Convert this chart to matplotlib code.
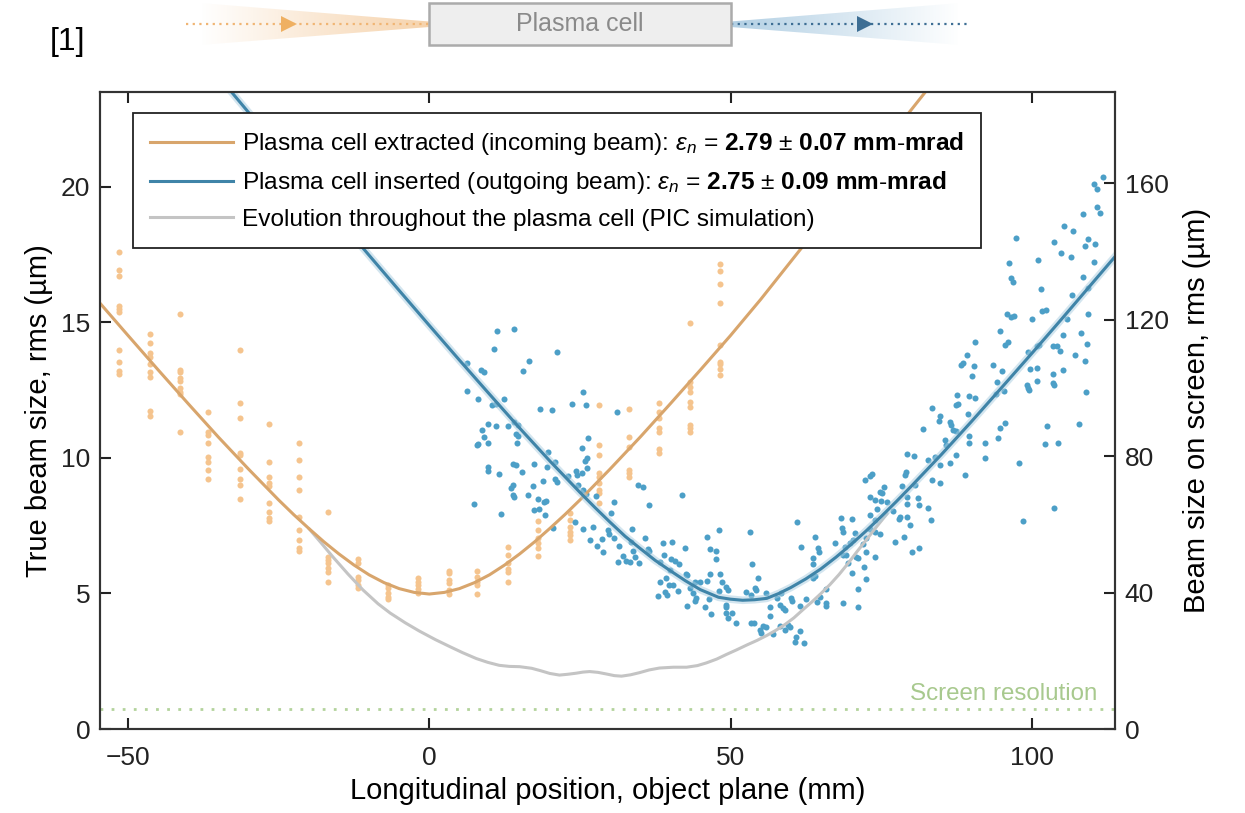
import numpy as np
import matplotlib
matplotlib.use("Agg")
import matplotlib.pyplot as plt
from matplotlib.colors import to_rgb
from matplotlib.patches import Polygon, Rectangle
from matplotlib.lines import Line2D

plt.rcParams["font.family"] = ["Liberation Sans", "DejaVu Sans"]
plt.rcParams["mathtext.fontset"] = "custom"
plt.rcParams["mathtext.rm"] = "Liberation Sans"
plt.rcParams["mathtext.it"] = "Liberation Sans:italic"
plt.rcParams["mathtext.bf"] = "Liberation Sans:bold"

# ---- data -----------------------------------------------------------------
# incoming beam (plasma cell extracted): screen positions (mm) and sizes (um)
orange_z = [-51.5, -46.4, -41.4, -36.7, -31.4, -26.6, -21.6, -16.8, -11.8, -6.8, -1.8,
            3.2, 8.0, 13.1, 18.1, 23.3, 28.2, 33.2, 38.2, 43.2, 48.2]
orange_s = [
    [17.6, 16.95, 16.7, 15.6, 15.5, 15.4, 14.0, 13.55, 13.2, 13.1],
    [14.58, 14.23, 13.86, 13.74, 13.47, 13.18, 12.98, 11.75, 11.55],
    [15.3, 13.25, 13.18, 12.94, 12.85, 12.57, 12.45, 12.36, 10.97],
    [11.71, 10.95, 10.85, 10.54, 10.03, 9.86, 9.56, 9.23],
    [13.99, 12.02, 11.46, 10.17, 10.11, 9.59, 9.23, 9.0, 8.48],
    [11.24, 9.86, 9.31, 9.07, 8.97, 8.35, 8.0, 7.77, 7.69],
    [10.54, 9.93, 9.31, 8.82, 7.83, 7.34, 6.97, 6.67, 6.58],
    [8.02, 6.36, 6.22, 6.11, 5.93, 5.80, 5.44],
    [6.27, 6.11, 5.62, 5.50, 5.31, 5.19],
    [5.31, 5.19, 5.03, 4.88, 4.79],
    [5.56, 5.44, 5.31, 5.15, 5.03],
    [5.84, 5.75, 5.50, 5.38, 5.13, 4.98],
    [5.84, 5.62, 5.44, 5.31, 4.98],
    [6.70, 6.42, 6.11, 5.89, 5.80, 5.44],
    [7.69, 7.34, 7.04, 6.85, 6.67, 6.38],
    [7.96, 7.71, 7.46, 7.28, 7.16, 6.97],
    [11.96, 10.48, 10.11, 9.43, 9.31, 9.07, 8.82, 8.70, 8.33],
    [11.80, 10.76, 10.42, 9.56, 9.43, 9.31],
    [12.04, 11.71, 11.46, 11.10, 10.97, 10.32, 10.20],
    [18.1, 14.97, 12.82, 12.63, 12.45, 12.08, 11.89, 11.22, 11.10, 10.97],
    [17.16, 16.91, 16.42, 15.73, 14.17, 13.55, 13.47, 13.27, 13.06],
]

# outgoing beam (plasma cell inserted): (position mm, size um)
blue_pts = [
    (11.24, 14.69), (14.0, 14.76), (10.80, 14.02), (21.21, 13.92), (16.61, 13.59), (6.26, 13.52),
    (8.59, 13.25), (9.02, 13.17), (15.5, 13.21), (6.2, 12.48), (8.14, 12.17), (25.47, 12.44),
    (10.41, 11.94), (11.07, 11.98), (12.46, 12.19), (23.64, 11.99), (26.08, 11.96), (18.39, 11.80),
    (20.32, 11.76), (31.18, 11.70), (9.80, 11.24), (11.01, 11.19), (13.07, 11.17), (14.12, 11.34),
    (14.67, 11.22), (8.69, 11.03), (9.14, 10.79), (8.03, 10.52), (8.0, 10.47), (9.80, 10.54),
    (14.40, 10.89), (14.67, 10.81), (26.30, 10.73), (14.56, 10.57), (25.36, 10.36), (19.71, 10.23),
    (26.25, 9.99), (25.91, 9.90), (13.84, 9.77), (14.40, 9.73), (17.44, 9.77), (19.55, 9.67),
    (20.93, 9.86), (9.80, 9.66), (9.80, 9.52), (11.63, 9.40), (15.33, 9.48), (23.04, 9.35),
    (24.37, 9.52), (24.48, 9.37), (25.36, 9.46), (26.25, 9.62), (20.93, 9.23), (21.15, 9.13),
    (18.82, 9.16), (17.16, 8.98), (13.95, 9.0), (13.57, 8.90), (24.63, 9.0), (25.58, 8.82),
    (26.02, 8.66), (27.69, 8.61), (16.33, 8.63), (13.84, 8.63), (14.12, 8.57), (17.99, 8.49),
    (18.99, 8.36), (19.39, 8.42), (7.36, 8.29), (11.91, 7.92), (17.44, 8.08), (18.27, 8.13),
    (19.27, 7.88), (24.14, 7.65), (20.48, 7.41), (25.58, 7.39), (27.13, 7.44), (26.69, 6.97),
    (27.91, 6.77),
    (34.60, 9.00), (35.43, 8.92), (41.97, 8.63), (30.73, 8.36), (36.54, 8.27), (30.18, 7.96),
    (29.62, 7.34), (28.69, 7.0), (28.90, 6.54), (30.73, 7.04), (29.90, 7.20), (33.67, 7.37),
    (35.88, 7.06), (31.56, 6.75), (33.50, 6.91), (33.77, 6.57), (36.27, 6.64), (36.54, 6.58),
    (34.11, 6.36), (32.11, 6.38), (31.28, 6.17), (32.67, 6.20), (33.34, 6.15), (34.88, 6.14),
    (38.76, 6.85), (40.25, 6.89), (42.47, 6.67), (38.87, 6.42), (40.15, 6.27), (40.70, 6.21),
    (41.41, 6.08), (38.37, 6.17), (42.52, 5.72), (42.74, 5.68), (39.98, 5.87), (39.32, 5.56),
    (38.21, 5.44), (39.70, 5.31), (40.42, 5.31), (39.04, 5.07), (37.93, 4.91), (39.42, 4.94),
    (41.25, 5.09), (42.74, 4.55), (44.02, 5.44), (44.85, 5.44), (43.31, 5.19), (43.74, 5.01),
    (44.30, 4.82), (44.02, 4.73), (46.13, 5.46), (46.51, 5.71), (46.06, 7.10), (46.51, 6.64),
    (47.62, 6.57), (47.62, 6.26), (48.06, 7.34), (53.16, 7.26), (53.54, 6.08), (54.54, 5.58),
    (48.29, 5.71), (48.62, 5.44), (49.17, 5.25), (49.55, 5.13), (48.06, 5.10), (46.40, 4.79),
    (45.68, 4.49), (49.17, 4.58), (49.28, 4.51), (46.79, 4.24), (49.28, 4.27), (50.22, 4.27),
    (49.55, 4.11), (50.94, 3.92), (52.61, 5.07), (53.99, 5.19), (54.27, 5.13), (55.93, 5.01),
    (53.44, 4.94), (58.42, 5.01), (57.76, 4.82), (58.14, 4.58), (56.48, 4.49), (58.69, 4.45),
    (58.97, 4.39), (60.08, 4.82), (60.25, 4.73), (56.48, 4.17), (61.46, 4.54), (53.44, 3.92),
    (53.82, 3.90), (55.37, 3.81), (54.82, 3.65), (55.10, 3.53), (55.93, 3.78), (57.03, 3.51),
    (58.14, 3.80), (59.52, 3.84), (59.80, 3.78), (58.97, 3.65), (61.46, 3.63), (60.63, 3.20),
    (62.18, 3.18), (60.9, 3.38), (61.08, 7.63),
    (87.59, 12.34), (83.44, 11.83), (87.49, 11.96), (87.82, 11.99), (84.72, 11.55), (84.60, 11.38),
    (86.38, 11.34), (86.66, 11.22), (81.94, 11.07), (86.93, 11.03), (87.49, 11.01), (85.55, 10.66),
    (85.83, 10.48), (79.29, 10.15), (80.40, 10.07), (82.77, 9.93), (83.89, 10.05), (84.72, 9.74),
    (86.49, 9.83), (87.49, 10.11), (83.39, 9.19), (84.72, 9.07), (79.07, 9.49), (78.90, 9.37),
    (78.52, 8.97), (80.56, 9.0), (73.21, 9.34), (73.54, 9.41), (72.37, 9.19), (75.47, 8.92),
    (74.75, 8.76), (75.20, 8.70), (73.21, 8.57), (74.04, 8.45), (75.03, 8.43), (75.97, 8.39),
    (74.30, 8.11), (73.21, 7.90), (73.92, 7.71), (76.96, 8.06), (78.07, 7.83), (77.96, 7.74),
    (79.29, 7.83), (79.73, 7.53), (79.29, 8.57), (79.29, 8.30), (81.11, 8.54), (81.28, 8.27),
    (82.77, 8.14), (83.33, 7.71), (68.39, 7.77), (70.15, 7.75), (68.55, 7.41), (68.66, 7.28),
    (70.60, 7.24), (73.21, 7.37), (74.04, 7.28), (74.87, 7.20), (72.54, 7.04), (71.98, 6.83),
    (70.32, 6.97), (69.88, 6.85), (67.28, 6.85), (68.94, 6.73), (68.66, 6.42), (69.10, 6.42),
    (63.95, 7.07), (64.50, 6.69), (64.62, 6.54), (63.67, 6.30), (63.67, 6.09), (61.74, 6.73),
    (72.43, 6.54), (73.92, 6.34), (77.24, 6.91), (78.74, 7.10), (80.18, 6.54), (81.28, 6.67),
    (69.49, 6.14), (72.09, 5.99), (70.88, 6.36), (71.15, 6.30), (70.22, 5.75), (72.43, 5.52),
    (71.15, 5.17), (63.67, 5.56), (63.95, 5.65), (65.90, 5.15), (64.78, 4.88), (64.34, 4.70),
    (65.90, 4.64), (65.90, 4.54), (62.57, 4.80), (68.66, 4.66), (71.15, 4.49),
    (98.45, 7.69), (103.65, 8.17),
    (111.85, 20.36), (110.30, 20.11), (110.74, 19.91), (110.85, 19.25), (111.30, 19.05),
    (108.42, 18.99), (105.32, 18.57), (106.76, 18.39), (103.65, 17.95), (104.77, 17.55),
    (106.48, 17.41), (108.86, 17.82), (109.35, 18.08), (110.47, 17.88), (110.30, 17.24),
    (100.94, 17.31), (97.29, 18.11), (96.23, 17.21), (96.46, 16.63), (96.89, 16.48),
    (108.42, 16.69), (106.70, 16.01), (109.35, 16.26), (101.44, 16.24), (101.61, 15.42),
    (102.33, 15.46), (95.80, 15.31), (96.51, 15.21), (97.01, 15.25), (99.95, 15.13),
    (105.76, 15.14), (109.35, 15.31), (94.68, 14.69), (90.58, 14.29), (96.06, 14.29),
    (95.51, 14.17), (105.20, 14.54), (108.14, 14.60), (109.08, 14.21), (103.54, 14.14),
    (104.20, 14.14), (104.65, 13.95), (107.14, 13.80), (108.86, 13.59), (99.39, 13.92),
    (100.78, 14.14), (101.16, 14.16), (89.25, 13.78), (88.49, 13.49), (88.16, 13.43),
    (90.42, 13.41), (93.57, 13.43), (90.03, 13.03), (95.07, 13.22), (99.67, 13.28),
    (100.88, 13.32), (105.20, 13.25), (103.54, 13.09), (94.24, 12.79), (95.35, 12.48),
    (94.13, 12.35), (103.43, 12.76), (103.65, 12.69), (99.22, 12.69), (99.39, 12.57),
    (99.55, 12.51), (100.78, 12.85), (108.92, 12.42), (89.58, 12.30), (90.53, 12.21),
    (89.42, 11.62), (95.51, 11.30), (94.68, 11.12), (102.54, 11.18), (107.86, 11.25),
    (94.40, 10.75), (89.58, 10.81), (89.58, 10.54), (92.19, 10.54), (102.21, 10.52),
    (104.37, 10.54), (92.19, 9.99), (97.84, 9.83), (88.87, 9.37),
]

# fitted envelopes
orange_fit_z = [-55, -50, -45, -40, -35, -30, -25, -22.5, -20, -17.5, -15, -12.5, -10, -7.5, -5,
                -2.5, 0, 2.5, 5, 7.5, 10, 12.5, 15, 17.5, 20, 22.5, 25, 30, 35, 40, 45, 50, 55,
                60, 65, 70, 75, 80, 85]
orange_fit_s = [15.80, 14.52, 13.25, 12.0, 10.77, 9.59, 8.45, 7.91, 7.40, 6.91, 6.46, 6.05, 5.69,
                5.40, 5.18, 5.04, 4.98, 5.04, 5.18, 5.40, 5.69, 6.05, 6.46, 6.91, 7.40, 7.91, 8.45,
                9.59, 10.77, 12.0, 13.25, 14.52, 15.85, 17.25, 18.65, 20.05, 21.45, 22.85, 24.25]
blue_fit_z = [-35, -30, -25, -20, -15, -10, -5, 0, 5, 10, 15, 20, 25, 27.5, 30, 32.5, 35, 37.5,
              40, 42.5, 45, 48, 50, 52, 54, 56, 58, 60, 62.5, 65, 67.5, 70, 72.5, 75, 77.5, 80,
              85, 90, 95, 100, 105, 110, 115]
blue_fit_s = [24.08, 22.75, 21.42, 20.10, 18.79, 17.48, 16.18, 14.89, 13.61, 12.35, 11.10, 9.89,
              8.73, 8.17, 7.63, 7.11, 6.66, 6.22, 5.84, 5.47, 5.14, 4.86, 4.79, 4.75, 4.77, 4.82,
              5.0, 5.22, 5.54, 5.91, 6.34, 6.81, 7.31, 7.84, 8.39, 8.96, 10.13, 11.35, 12.60,
              13.86, 15.14, 16.44, 17.74]
pic_z = [-20, -18, -16, -13.5, -11, -8.5, -6.5, -4, -1.7, 1, 3.5, 5.5, 7.8, 9.7, 11.6, 13.3, 15,
         17, 18.5, 20, 21.6, 23, 24.4, 25.5, 26.6, 28, 29.4, 30.7, 31.9, 33.4, 34.9, 36.5, 38.2,
         40.5, 42.7, 44.5, 46, 47.7, 49.3, 51, 52.7, 54.4, 56, 57.5, 59, 60.5, 62, 63.5, 65,
         66.5, 68, 69.5, 71, 72.5, 74, 76]
pic_s = [7.40, 6.88, 6.35, 5.72, 5.13, 4.62, 4.28, 3.92, 3.62, 3.30, 3.03, 2.82, 2.60, 2.46,
         2.35, 2.31, 2.30, 2.24, 2.15, 2.05, 1.99, 2.02, 2.06, 2.10, 2.12, 2.09, 2.03, 1.97,
         1.95, 2.00, 2.08, 2.18, 2.25, 2.28, 2.28, 2.34, 2.44, 2.58, 2.75, 2.92, 3.10, 3.27,
         3.45, 3.64, 3.85, 4.10, 4.40, 4.69, 5.00, 5.33, 5.70, 6.11, 6.55, 6.97, 7.40, 7.95]
screen_res = 0.75

C_OR_LINE = "#D8A56C"
C_OR_PT = "#F5C48E"
C_BL_LINE = "#3F84A8"
C_BL_PT = "#4C9FC7"
C_GRAY = "#C4C4C4"
C_GREEN = "#B3D39C"

fig = plt.figure(figsize=(12.45, 8.13), dpi=100)
ax = fig.add_axes([0.0803, 0.1033, 0.8153, 0.7835])

oz = np.concatenate([[z] * len(s) for z, s in zip(orange_z, orange_s)])
os_ = np.concatenate(orange_s)
ax.scatter(oz, os_, s=19, color=C_OR_PT, lw=0, zorder=2)
bz, bs = np.array(blue_pts).T
ax.scatter(bz, bs, s=19, color=C_BL_PT, lw=0, zorder=2)

ax.plot(pic_z, pic_s, color=C_GRAY, lw=2.2, zorder=3, solid_capstyle="round")
ax.plot(orange_fit_z, orange_fit_s, color=C_OR_LINE, lw=2.2, zorder=4)
ax.plot(blue_fit_z, blue_fit_s, color="#A9CDE0", lw=5.5, alpha=0.5, zorder=4)
ax.plot(blue_fit_z, blue_fit_s, color=C_BL_LINE, lw=2.2, zorder=5)

ax.axhline(screen_res, color=C_GREEN, lw=2, ls=(0, (1, 3)), zorder=1)
ax.text(110.8, 1.07, "Screen resolution", color="#A8C98E", fontsize=17.4,
        ha="right", va="baseline")

ax.set_xlim(-54.65, 113.8)
ax.set_ylim(0, 23.5)
ax.set_xticks([-50, 0, 50, 100])
ax.set_yticks([0, 5, 10, 15, 20])
ax.tick_params(direction="in", length=8, width=1.5, labelsize=19, pad=7,
               top=True, right=False, colors="#222222")
ax.tick_params(axis="x", pad=12)
for sp in ax.spines.values():
    sp.set_linewidth(1.5)
    sp.set_color("#333333")
ax.set_xlabel("Longitudinal position, object plane (mm)", fontsize=21, labelpad=5)
ax.set_ylabel("True beam size, rms (µm)", fontsize=21, labelpad=6)

ax2 = ax.twinx()
ax2.set_ylim(0, 186.7)
ax2.set_yticks([0, 40, 80, 120, 160])
ax2.tick_params(direction="in", length=8, width=1.5, labelsize=19, pad=7, colors="#222222")
ax2.set_ylabel("Beam size on screen, rms (µm)", fontsize=21, labelpad=10)
for sp in ax2.spines.values():
    sp.set_linewidth(1.5)
    sp.set_color("#333333")

handles = [Line2D([], [], color=C_OR_LINE, lw=2.2),
           Line2D([], [], color=C_BL_LINE, lw=2.2),
           Line2D([], [], color=C_GRAY, lw=2.2)]
labels = [r"Plasma cell extracted (incoming beam): $\epsilon_n$ = $\mathbf{2.79}$ $\pm$ $\mathbf{0.07\ mm}$" + "\u2010" + r"$\mathbf{mrad}$",
          r"Plasma cell inserted (outgoing beam): $\epsilon_n$ = $\mathbf{2.75}$ $\pm$ $\mathbf{0.09\ mm}$" + "\u2010" + r"$\mathbf{mrad}$",
          "Evolution throughout the plasma cell (PIC simulation)"]
leg = ax2.legend(handles, labels, loc="upper left", bbox_to_anchor=(0.0325, 0.967),
                 borderaxespad=0, fontsize=17.6, frameon=True, fancybox=False,
                 edgecolor="#222222", framealpha=1, handlelength=3.4, handletextpad=0.35,
                 labelspacing=0.5, borderpad=0.7)
leg.get_frame().set_linewidth(1.3)

# ---- schematic above the plot ---------------------------------------------
axt = fig.add_axes([0.0803, 1 - 50 / 813, 0.8153, 50 / 813])
axt.set_xlim(ax.get_xlim())
axt.set_ylim(50, 0)
axt.axis("off")


def wedge(x_wide, x_narrow, color, alpha_max):
    ramp = np.linspace(0, 1, 256)
    if x_wide > x_narrow:
        ramp = ramp[::-1]
    rgba = np.zeros((1, 256, 4))
    rgba[..., :3] = to_rgb(color)
    rgba[..., 3] = ramp * alpha_max
    lo, hi = min(x_wide, x_narrow), max(x_wide, x_narrow)
    im = axt.imshow(rgba, extent=(lo, hi, 46, 2), aspect="auto", interpolation="bilinear", zorder=1)
    poly = Polygon([(x_wide, 3), (x_narrow, 21.5), (x_narrow, 27), (x_wide, 45)],
                   closed=True, facecolor="none", edgecolor="none", transform=axt.transData)
    axt.add_patch(poly)
    im.set_clip_path(poly)


wedge(-38.0, 0, "#F0B574", 0.6)
wedge(88.0, 50, "#7FB0D2", 0.6)
axt.plot([-40.4, 0], [24, 24], color="#F0B574", lw=1.6, ls=(0, (1, 2)), zorder=2)
axt.plot([50, 89.7], [24, 24], color="#3D6E94", lw=1.6, ls=(0, (1, 2)), zorder=2)
axt.plot([-23.3], [24], marker=">", ms=11, color="#EFB062", mew=0, zorder=3)
axt.plot([72.3], [24], marker=">", ms=11, color="#3D6E94", mew=0, zorder=3)
axt.add_patch(Rectangle((0, 3), 50, 42, facecolor="#EEEEEE", edgecolor="#ABABAB", lw=1.8, zorder=4))
axt.text(25, 24, "Plasma cell", color="#8A8A8A", fontsize=18, ha="center", va="center", zorder=5)
axt.set_xlim(ax.get_xlim())
axt.set_ylim(50, 0)

fig.text(0.040, 0.948, "[1]", fontsize=23, va="center", ha="left")

fig.savefig("out.png", dpi=100)
